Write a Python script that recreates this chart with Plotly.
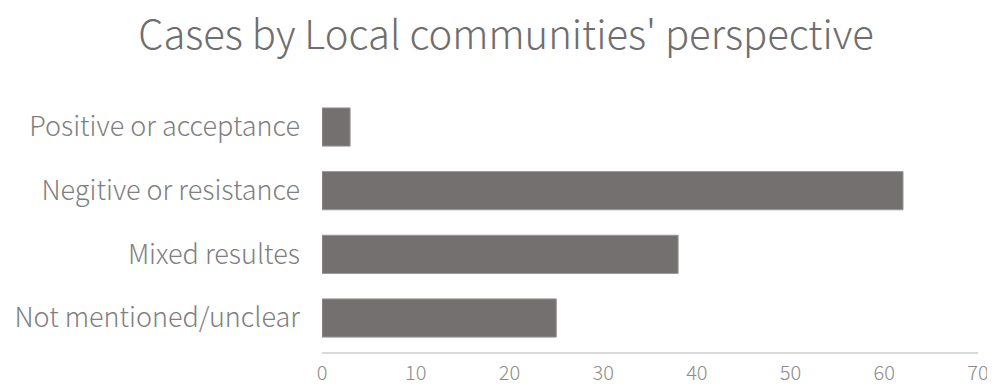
import plotly.graph_objects as go

categories = ["Positive or acceptance", "Negitive or resistance", "Mixed resultes", "Not mentioned/unclear"]
values = [3, 62, 38, 25]
x_ticks = [0, 10, 20, 30, 40, 50, 60, 70]

order = categories[::-1]

# The page body has an 8px default margin; the figure is sized to fit the window.
fig = go.Figure(go.Bar(
    x=values,
    y=categories,
    orientation="h",
    marker=dict(color="#74706f", line=dict(color="#9a9695", width=1)),
    width=0.6,
))

fig.update_layout(
    width=987, height=381,
    paper_bgcolor="white", plot_bgcolor="white",
    margin=dict(l=314, r=17, t=91, b=37),
    title=dict(text="Cases by Local communities' perspective", x=0.5046, xanchor="center",
               y=0.93, yanchor="middle",
               font=dict(family="Noto Sans CJK SC", size=40, color="#6e6e6e", weight=300)),
    font=dict(family="Noto Sans CJK SC", color="#7f7f7f", weight=300),
    showlegend=False,
)
fig.update_xaxes(range=[0, 70], tickvals=x_ticks, showgrid=False, zeroline=False,
                 showline=True, linecolor="#d9d9d9", linewidth=2, automargin=False,
                 tickfont=dict(size=20, color="#8c8c8c"), ticks="", ticklabelstandoff=2)
fig.update_yaxes(categoryorder="array", categoryarray=order, range=[-0.534, 3.44],
                 showgrid=False, showline=False, zeroline=False, ticks="", automargin=False,
                 tickfont=dict(size=27, color="#7f7f7f"), ticklabelstandoff=21)

fig.write_html("out.html")
